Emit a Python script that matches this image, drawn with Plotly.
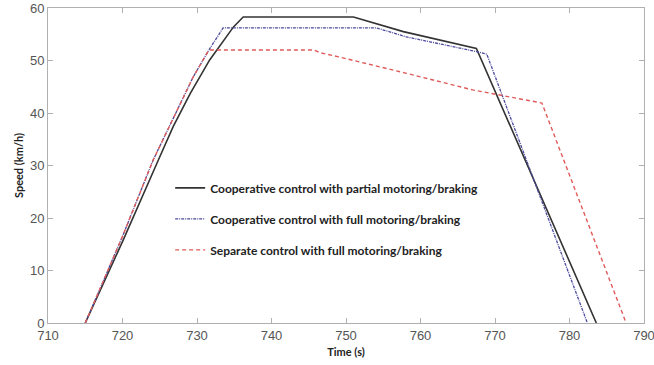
import plotly.graph_objects as go

# Cooperative control with partial motoring/braking
t_partial = [715, 720, 724.8, 726.8, 729.1, 731.7, 734.9, 736.2, 751.0, 757.7, 767.5, 783.6]
v_partial = [0, 15.5, 31.0, 37.4, 43.75, 50.1, 56.4, 58.3, 58.3, 55.5, 52.3, 0]

# Cooperative control with full motoring/braking
t_full = [715, 720, 724.1, 727.3, 729.5, 731.6, 733.5, 754.1, 758.1, 767.5, 768.9, 782.4]
v_full = [0, 16.5, 31.0, 40.6, 46.9, 52.0, 56.2, 56.2, 54.5, 51.7, 51.2, 0]

# Separate control with full motoring/braking
t_sep = [715, 720, 724.1, 727.3, 729.5, 731.6, 745.7, 746.5, 749.0, 758.0, 767.0, 776.3, 787.6]
v_sep = [0, 16.5, 31.0, 40.6, 46.9, 52.0, 52.0, 51.5, 50.7, 47.6, 44.4, 41.9, 0]

names = [
    "Cooperative control with partial motoring/braking",
    "Cooperative control with full motoring/braking",
    "Separate control with full motoring/braking",
]

x_ticks = [710, 720, 730, 740, 750, 760, 770, 780, 790]
y_ticks = [0, 10, 20, 30, 40, 50, 60]

fig = go.Figure()
fig.add_trace(go.Scatter(x=t_partial, y=v_partial, mode="lines", name=names[0],
                         legendgroup="a",
                         line=dict(color="#333333", width=1.6)))
fig.add_trace(go.Scatter(x=t_full, y=v_full, mode="lines", name=names[1],
                         legendgroup="b",
                         line=dict(color="#4a4a9c", width=1.3, dash="3px,1px,1px,1px")))
fig.add_trace(go.Scatter(x=t_sep, y=v_sep, mode="lines", name=names[2],
                         legendgroup="c",
                         line=dict(color="#e05a5a", width=1.4, dash="4px,3px")))

axis_common = dict(
    showline=True, linecolor="#b0b0b0", linewidth=1, mirror="ticks",
    ticks="inside", ticklen=5, tickcolor="#b0b0b0",
    showgrid=False, zeroline=False, ticklabeloverflow="allow", automargin=False,
    tickfont=dict(family="Liberation Sans, Arial, sans-serif", size=13, color="#555555"),
)

fig.update_layout(
    width=654, height=365,
    margin=dict(l=48, r=10, t=8, b=42),
    paper_bgcolor="white", plot_bgcolor="white",
    xaxis=dict(range=[710, 790], tickvals=x_ticks, ticktext=[str(v) for v in x_ticks],
               title=dict(text="<b>Time (s)</b>", standoff=6,
                          font=dict(family="Lato, Open Sans, sans-serif", size=11, color="#222")),
               **axis_common),
    yaxis=dict(range=[0, 60], tickvals=y_ticks, ticktext=[str(v) for v in y_ticks],
               title=dict(text="<b>Speed (km/h)</b>", standoff=4,
                          font=dict(family="Lato, Open Sans, sans-serif", size=11, color="#222")),
               **axis_common),
    showlegend=True,
    legend=dict(x=0.205, y=0.475, xanchor="left", yanchor="top",
                bgcolor="rgba(0,0,0,0)", borderwidth=0,
                traceorder="grouped", tracegroupgap=12, itemwidth=30,
                font=dict(family="Lato, Open Sans, sans-serif", size=12,
                          color="#222", weight="bold")),
)

fig.write_html("out.html")
